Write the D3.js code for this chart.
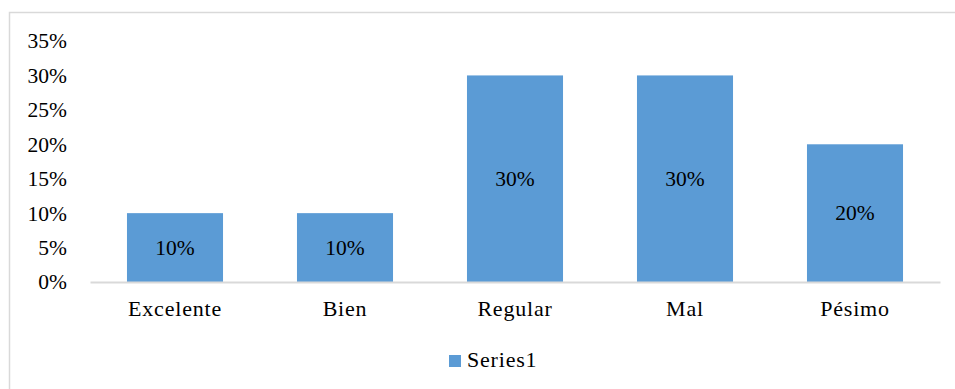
<!DOCTYPE html>
<html>
<head>
<meta charset="utf-8">
<script src="https://cdn.jsdelivr.net/npm/d3@7"></script>
<style>
  html, body { margin: 0; padding: 0; background: #fff; }
  svg { display: block; }
  text { font-family: "Liberation Serif", "Times New Roman", serif; fill: #000; }
</style>
</head>
<body>
<svg id="chart" width="955" height="389"></svg>
<script>
// Survey ratings, share of responses
const categories = ["Excelente", "Bien", "Regular", "Mal", "Pésimo"];
const values = [10, 10, 30, 30, 20];
const yTicks = [0, 5, 10, 15, 20, 25, 30, 35];
const seriesName = "Series1";

const W = 955, H = 389;
const plot = { left: 90, right: 940, top: 41, bottom: 282 };
const barColor = "#5B9BD5";
const numSize = 21.5;
const wordSize = 22;
const wordSpacing = 0.8;

const svg = d3.select("#chart");

// chart frame (extends past the right and bottom edges)
svg.append("rect")
  .attr("x", 9.5).attr("y", 12.5)
  .attr("width", W + 20).attr("height", H + 20)
  .attr("fill", "none")
  .attr("stroke", "#d9d9d9")
  .attr("stroke-width", 1.5);

const x = d3.scaleBand()
  .domain(categories)
  .range([plot.left, plot.right])
  .paddingInner(0.435)
  .paddingOuter(0.2175);

const y = d3.scaleLinear()
  .domain([0, 35])
  .range([plot.bottom, plot.top]);

// y axis labels only
const yAxis = d3.axisLeft(y)
  .tickValues(yTicks)
  .tickFormat(d => d + "%")
  .tickSize(0)
  .tickPadding(0);
const gy = svg.append("g")
  .attr("transform", `translate(67,0)`)
  .call(yAxis);
gy.select(".domain").remove();
gy.selectAll("text")
  .attr("font-size", numSize)
  .attr("font-family", "Liberation Serif, Times New Roman, serif")
  .attr("fill", "#000");

// bars
svg.append("g").selectAll("rect")
  .data(values)
  .join("rect")
  .attr("x", (d, i) => x(categories[i]))
  .attr("y", d => y(d))
  .attr("width", x.bandwidth())
  .attr("height", d => y(0) - y(d))
  .attr("fill", barColor);

// value labels centred in each bar
svg.append("g").selectAll("text")
  .data(values)
  .join("text")
  .attr("x", (d, i) => x(categories[i]) + x.bandwidth() / 2)
  .attr("y", d => (y(d) + y(0)) / 2 + 2)
  .attr("text-anchor", "middle")
  .attr("dominant-baseline", "middle")
  .attr("font-size", numSize)
  .text(d => d + "%");

// x axis baseline and category labels
const xAxis = d3.axisBottom(x).tickSize(0).tickPadding(0);
const gx = svg.append("g")
  .attr("transform", `translate(0,${plot.bottom})`)
  .call(xAxis);
gx.select(".domain")
  .attr("stroke", "#d9d9d9")
  .attr("stroke-width", 2);
gx.selectAll("text")
  .attr("font-size", wordSize)
  .attr("letter-spacing", wordSpacing)
  .attr("font-family", "Liberation Serif, Times New Roman, serif")
  .attr("fill", "#000")
  .attr("dy", null)
  .attr("y", 29)
  .attr("dominant-baseline", "middle");

// legend
const lg = svg.append("g").attr("transform", "translate(449,355)");
lg.append("rect")
  .attr("width", 12).attr("height", 12)
  .attr("fill", barColor);
lg.append("text")
  .attr("x", 18).attr("y", 7)
  .attr("dominant-baseline", "middle")
  .attr("font-size", wordSize)
  .attr("letter-spacing", wordSpacing)
  .text(seriesName);
</script>
</body>
</html>
